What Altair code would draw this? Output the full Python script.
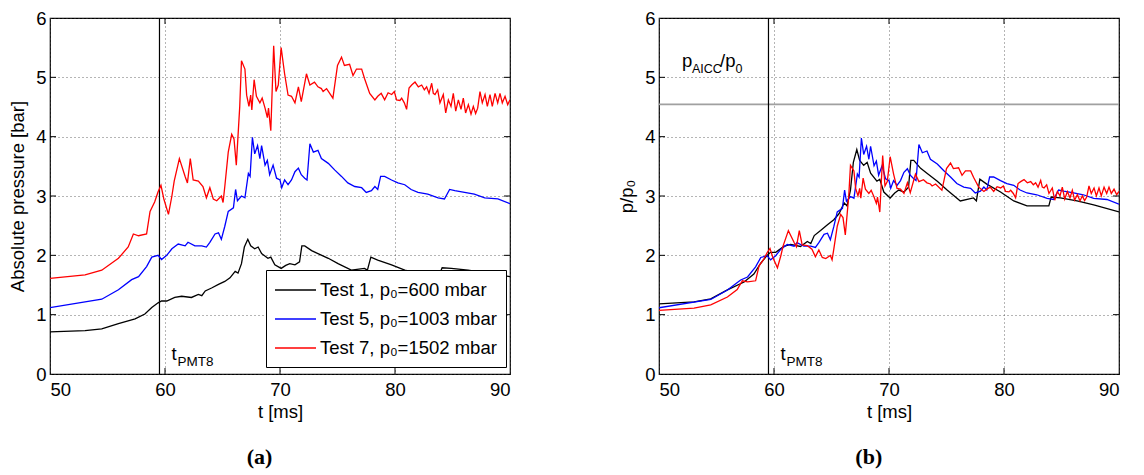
import altair as alt
import pandas as pd

# ---------------- data ----------------
labels = ["Test 1, p\u2080=600 mbar", "Test 5, p\u2080=1003 mbar", "Test 7, p\u2080=1502 mbar"]
p0_bar = [0.600, 1.003, 1.502]
colors = ["#000000", "#0000ff", "#ff0000"]

t_test1 = [50.0, 53.05, 54.5, 55.95, 57.4, 58.25, 58.85, 59.4, 59.7, 60.15, 60.85, 61.45, 62.3, 62.9,
           63.2, 63.5, 64.05, 64.65, 65.2, 65.65, 66.1, 66.35, 66.65, 66.9, 67.2, 67.45, 67.8, 68.1,
           68.4, 68.95, 69.2, 69.55, 70.1, 70.5, 70.85, 71.3, 71.7, 71.9, 72.15, 72.75, 73.3, 74.2,
           75.05, 76.2, 77.35, 77.6, 77.9, 78.5, 79.7, 80.85, 82.0, 83.9, 84.1, 84.9, 86.35, 87.8, 90.0]
p_test1 = [0.71, 0.73, 0.76, 0.85, 0.93, 1.01, 1.12, 1.20, 1.23, 1.23, 1.29, 1.31, 1.29, 1.34,
           1.32, 1.40, 1.45, 1.51, 1.56, 1.62, 1.73, 1.70, 1.86, 2.14, 2.27, 2.16, 2.11, 2.14,
           2.03, 1.95, 1.97, 1.84, 1.78, 1.83, 1.86, 1.84, 1.89, 2.16, 2.16, 2.08, 2.03, 1.95,
           1.86, 1.75, 1.78, 1.75, 1.97, 1.92, 1.84, 1.75, 1.70, 1.70, 1.79, 1.78, 1.75, 1.71, 1.64]

t_test5 = [50.0, 54.5, 55.95, 57.1, 57.7, 58.4, 58.85, 59.4, 59.7, 60.15, 60.6, 61.15, 61.75, 62.0,
           62.6, 63.2, 63.6, 63.9, 64.35, 64.65, 64.9, 65.2, 65.5, 65.95, 66.14, 66.3, 66.65, 66.95,
           67.25, 67.4, 67.6, 67.8, 68.05, 68.25, 68.4, 68.7, 68.9, 69.1, 69.4, 69.7, 70.0, 70.15,
           70.4, 70.7, 71.0, 71.3, 71.6, 71.85, 72.15, 72.35, 72.6, 72.9, 73.3, 73.6, 74.2, 74.75,
           75.35, 75.9, 76.5, 77.1, 77.5, 77.95, 78.25, 78.5, 78.75, 79.1, 79.7, 80.25, 80.85, 81.4,
           82.0, 82.85, 83.75, 84.3, 84.75, 85.2, 86.05, 86.9, 87.8, 88.95, 90.0]
p_test5 = [1.12, 1.26, 1.42, 1.59, 1.64, 1.81, 1.97, 2.00, 1.93, 2.00, 2.11, 2.19, 2.16, 2.22,
           2.16, 2.16, 2.14, 2.22, 2.36, 2.38, 2.27, 2.49, 2.74, 2.80, 3.11, 2.92, 3.00, 2.97,
           3.38, 3.33, 3.99, 3.71, 3.85, 3.63, 3.85, 3.52, 3.60, 3.36, 3.52, 3.30, 3.27, 3.14,
           3.27, 3.19, 3.27, 3.41, 3.47, 3.36, 3.30, 3.27, 3.88, 3.74, 3.77, 3.63, 3.55, 3.44,
           3.33, 3.22, 3.16, 3.14, 3.06, 3.09, 3.16, 3.11, 3.33, 3.33, 3.27, 3.22, 3.19, 3.11,
           3.06, 3.03, 2.97, 2.95, 3.11, 3.09, 3.06, 3.03, 2.97, 2.95, 2.87]

t_test7 = [50.0, 53.05, 54.5, 55.95, 56.8, 57.25, 57.7, 58.4, 58.7, 59.1, 59.4, 59.65, 59.9, 60.3, 60.6,
           60.8, 61.25, 61.75, 61.95, 62.2, 62.45, 62.9, 63.3, 63.6, 63.9, 64.2, 64.5, 64.9, 65.05,
           65.2, 65.5, 65.8, 66.0, 66.2, 66.5, 66.65, 66.95, 67.1, 67.3, 67.45, 67.55, 67.75, 67.95,
           68.25, 68.45, 68.7, 68.9, 69.0, 69.2, 69.45, 69.65, 69.85, 70.1, 70.4, 70.7, 71.0, 71.3,
           71.6, 71.85, 72.3, 72.6, 73.0, 73.3, 73.6, 73.75, 74.05, 74.6, 75.0, 75.35, 75.6, 76.05,
           76.35, 76.65, 77.1, 77.35, 77.8, 78.25, 78.5, 78.8, 79.1, 79.4,
           79.71, 79.94, 80.14, 80.43, 80.58, 80.81, 81.01, 81.22, 81.45, 81.74, 82.03, 82.32, 82.55,
           82.75, 82.96, 83.19, 83.33, 83.48, 83.71, 83.91, 84.2, 84.41, 84.64, 84.87, 85.07, 85.28,
           85.51, 85.74, 85.94, 86.14, 86.38, 86.61, 86.81, 87.01, 87.19, 87.39, 87.59, 87.83, 88.03,
           88.26, 88.46, 88.7, 88.93, 89.13, 89.33, 89.57, 89.8, 90.0]
p_test7 = [1.61, 1.67, 1.75, 1.95, 2.14, 2.36, 2.33, 2.36, 2.74, 2.90, 3.07, 3.18, 2.95, 2.69, 3.00,
           3.25, 3.63, 3.33, 3.22, 3.63, 3.27, 3.25, 3.16, 2.97, 3.14, 2.95, 2.92, 3.00, 2.89,
           3.16, 3.74, 4.04, 3.96, 3.52, 4.51, 5.28, 5.14, 4.70, 4.51, 4.70, 4.45, 4.96, 4.68,
           4.57, 4.65, 4.48, 4.32, 4.48, 4.10, 5.53, 4.76, 4.87, 5.50, 5.06, 4.70, 4.68, 4.57,
           4.84, 4.59, 5.06, 4.87, 4.92, 4.84, 4.81, 4.76, 4.81, 4.65, 5.20, 5.34, 5.20, 5.22,
           5.03, 5.14, 5.14, 4.98, 4.73, 4.62, 4.68, 4.73, 4.62, 4.74,
           4.71, 4.76, 4.62, 4.61, 4.65, 4.57, 4.46, 4.82, 4.87, 4.92, 4.84, 4.87, 4.79,
           4.84, 4.73, 4.90, 4.73, 4.71, 4.79, 4.57, 4.71, 4.40, 4.62, 4.51, 4.73, 4.43,
           4.62, 4.46, 4.65, 4.40, 4.54, 4.38, 4.51, 4.39, 4.48, 4.76, 4.57, 4.71, 4.51,
           4.71, 4.51, 4.73, 4.57, 4.73, 4.57, 4.68, 4.54, 4.62]

t_pmt8 = [59.52]
p_aicc_ratio = [4.545]
x_ticks = [60, 70, 80]
y_ticks = [1, 2, 3, 4, 5]

# ---------------- build table ----------------
rows = []
for lab, p0, ts, ps in zip(labels, p0_bar, [t_test1, t_test5, t_test7], [p_test1, p_test5, p_test7]):
    for t, p in zip(ts, ps):
        rows.append({"t": t, "p": p, "test": lab, "p0": p0})
df = pd.DataFrame(rows)

W, H = 460, 356
FONT = "Liberation Sans"
FS = 18.5
SUB = 13.5

xscale = alt.Scale(domain=[50, 90], nice=False, zero=False)
yscale = alt.Scale(domain=[0, 6], nice=False)
xaxis = alt.Axis(title="t [ms]", values=[50, 60, 70, 80, 90], ticks=False, grid=True,
                 labelPadding=6, titlePadding=4)


def yaxis(title):
    return alt.Axis(title=title, values=[0, 1, 2, 3, 4, 5, 6], ticks=False, grid=True,
                    labelPadding=4, titlePadding=8)


def panel(yfield, ytitle, label_text, extra):
    base = alt.Chart(df)
    if yfield == "ratio":
        base = base.transform_calculate(ratio="datum.p / datum.p0")
    lines = base.mark_line(strokeWidth=1.3, clip=True).encode(
        x=alt.X("t:Q", scale=xscale, axis=xaxis),
        y=alt.Y(f"{yfield}:Q", scale=yscale, axis=yaxis(ytitle)),
        color=alt.Color("test:N", scale=alt.Scale(domain=labels, range=colors),
                        legend=alt.Legend(title=None, orient="none", legendX=216, legendY=H - 104,
                                          fillColor="white", strokeColor="black", padding=9,
                                          symbolType="M-1.1,0H3", symbolSize=400,
                                          symbolStrokeWidth=1.3, labelOffset=23,
                                          labelFont=FONT, labelFontSize=FS, rowPadding=8,
                                          labelLimit=400)),
        order="t:Q",
    )
    vrule = alt.Chart(pd.DataFrame({"t": t_pmt8})).mark_rule(color="black", strokeWidth=1.2).encode(
        x=alt.X("t:Q", scale=xscale, axis=xaxis))
    tdf = pd.DataFrame({"t": t_pmt8, "v": [0.0]})
    t_main = alt.Chart(tdf).mark_text(text="t", align="left", baseline="alphabetic", dx=12, dy=-14,
                                      font=FONT, fontSize=FS).encode(
        x=alt.X("t:Q", scale=xscale, axis=xaxis), y=alt.Y("v:Q", scale=yscale, axis=yaxis(ytitle)))
    t_sub = alt.Chart(tdf).mark_text(text="PMT8", align="left", baseline="alphabetic", dx=18, dy=-8,
                                     font=FONT, fontSize=SUB).encode(
        x=alt.X("t:Q", scale=xscale, axis=xaxis), y=alt.Y("v:Q", scale=yscale, axis=yaxis(ytitle)))
    xt = alt.Chart(pd.DataFrame({"t": x_ticks}))
    yt = alt.Chart(pd.DataFrame({"v": y_ticks}))
    ticks = [
        xt.mark_rule(color="black").encode(x=alt.X("t:Q", scale=xscale, axis=xaxis),
                                           y=alt.value(H), y2=alt.value(H - 6)),
        xt.mark_rule(color="black").encode(x=alt.X("t:Q", scale=xscale, axis=xaxis),
                                           y=alt.value(0), y2=alt.value(6)),
        yt.mark_rule(color="black").encode(y=alt.Y("v:Q", scale=yscale, axis=yaxis(ytitle)),
                                           x=alt.value(0), x2=alt.value(6)),
        yt.mark_rule(color="black").encode(y=alt.Y("v:Q", scale=yscale, axis=yaxis(ytitle)),
                                           x=alt.value(W), x2=alt.value(W - 6)),
    ]
    layers = extra(ytitle) + [vrule, lines, t_main, t_sub] + ticks
    return alt.layer(*layers).properties(
        width=W, height=H,
        title=alt.TitleParams(label_text, orient="bottom", anchor="middle", frame="bounds",
                              font="Liberation Serif", fontWeight="bold", fontSize=22, offset=26,
                              color="black"),
    )


def no_extra(ytitle):
    return []


def aicc_layers(ytitle):
    hdf = pd.DataFrame({"v": p_aicc_ratio})
    hline = alt.Chart(hdf).mark_rule(color="#a0a0a0", strokeWidth=1.8).encode(
        y=alt.Y("v:Q", scale=yscale, axis=yaxis(ytitle)))
    lab = pd.DataFrame({"t": [52.0], "v": [5.17]})
    enc = dict(x=alt.X("t:Q", scale=xscale, axis=xaxis), y=alt.Y("v:Q", scale=yscale, axis=yaxis(ytitle)))
    parts = [
        alt.Chart(lab).mark_text(text="p", align="left", baseline="alphabetic", font=FONT, fontSize=FS).encode(**enc),
        alt.Chart(lab).mark_text(text="AICC", align="left", baseline="alphabetic", dx=10, dy=6,
                                 font=FONT, fontSize=SUB - 1).encode(**enc),
        alt.Chart(lab).mark_text(text="/p", align="left", baseline="alphabetic", dx=38,
                                 font=FONT, fontSize=FS).encode(**enc),
        alt.Chart(lab).mark_text(text="0", align="left", baseline="alphabetic", dx=53.5, dy=6,
                                 font=FONT, fontSize=SUB - 1).encode(**enc),
    ]
    return [hline] + parts


left = panel("p", "Absolute pressure [bar]", "(a)", no_extra)
right = panel("ratio", "p/p\u2080", "(b)", aicc_layers)

chart = alt.hconcat(left, right, spacing=105).properties(
    padding={"left": 0, "top": 0, "right": 0, "bottom": 0}
).configure_view(stroke="black", strokeWidth=1.2).configure_axis(
    labelFont=FONT, labelFontSize=FS, labelColor="black", titleFont=FONT, titleFontSize=FS,
    titleFontWeight="normal", titleColor="black", gridColor="#444444", gridDash=[1, 3],
    gridWidth=0.8, domain=False
).configure_text(color="black")

chart.save("out.html", embed_options={"renderer": "svg", "actions": False})
